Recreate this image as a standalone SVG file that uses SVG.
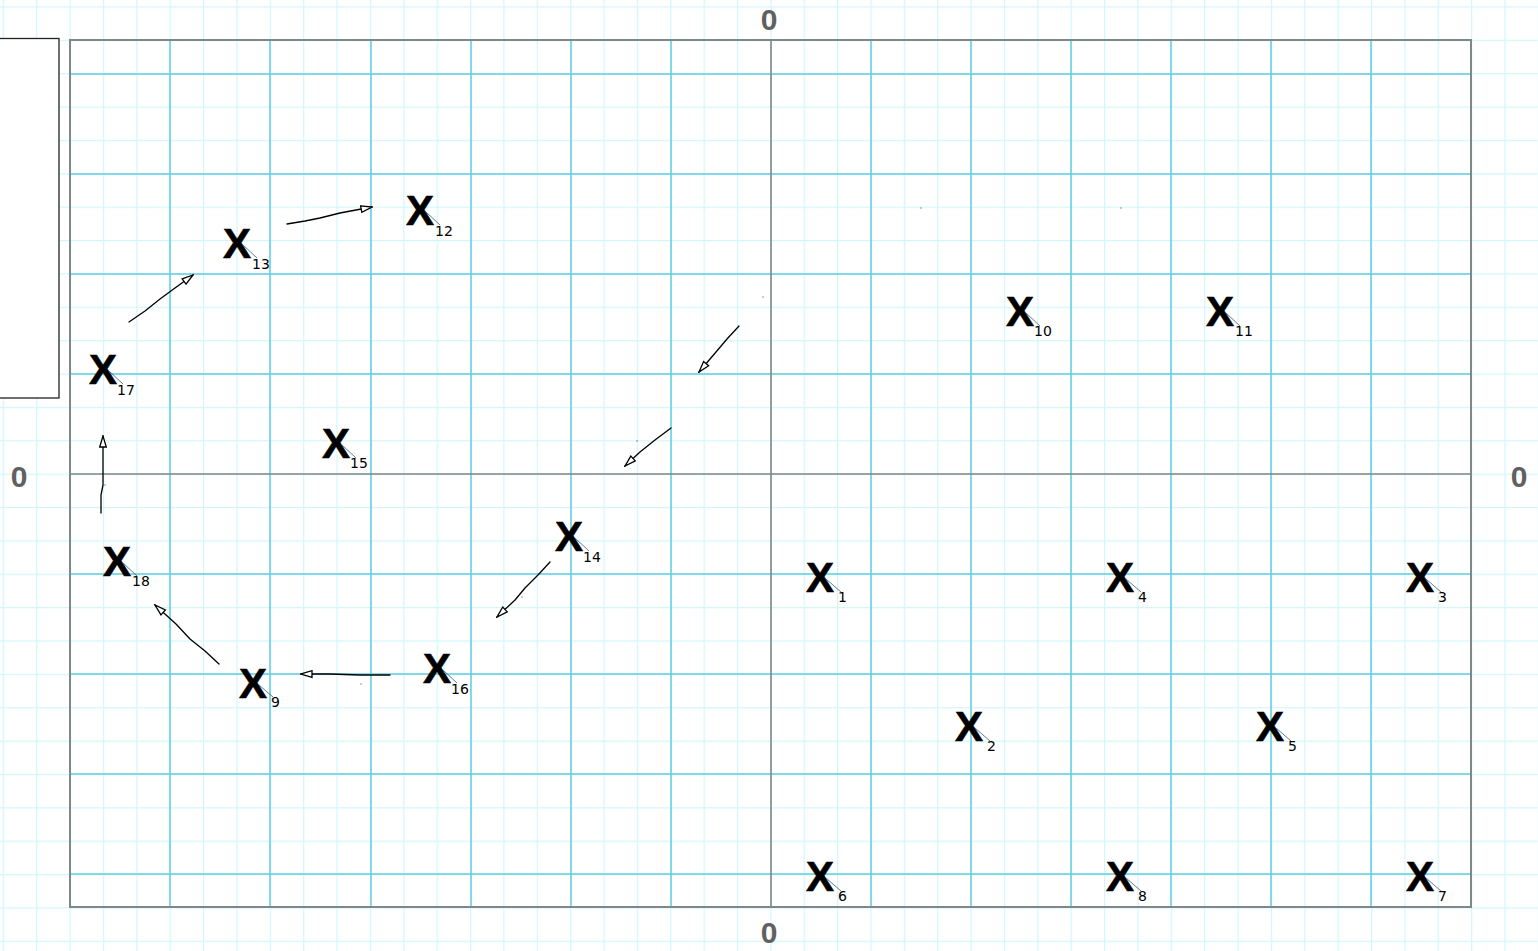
<svg xmlns="http://www.w3.org/2000/svg" width="1538" height="951" viewBox="0 0 1538 951">
<style>
.minor{stroke:#d2f6fb;stroke-width:1.2;fill:none}
.major{stroke:#62cde2;stroke-width:1.5;fill:none}
.axis{stroke:#7d8787;stroke-width:1.6;fill:none}
.border{fill:none;stroke:#7f8888;stroke-width:2}
.lbl{font-family:"Liberation Sans",Arial,sans-serif;font-weight:bold;font-size:30px;fill:#606060;text-anchor:middle}
.x{font-family:"Liberation Sans",Arial,sans-serif;font-weight:bold;font-size:42px;fill:#000;stroke:#000;stroke-width:0.6;text-anchor:middle}
.sub{font-family:"DejaVu Sans",sans-serif;font-size:14px;fill:#000}
.lead{stroke:#555;stroke-width:0.8}
.conn{fill:none;stroke:#000;stroke-width:1.3;stroke-linecap:round;stroke-linejoin:round}
</style>
<defs>
<pattern id="g" patternUnits="userSpaceOnUse" x="2.8" y="6.4" width="33.37" height="33.37">
<path d="M0.6 0V33.37M0 0.6H33.37" class="minor"/>
</pattern>
<marker id="ah" markerWidth="13" markerHeight="9" refX="12" refY="4.5" orient="auto" markerUnits="userSpaceOnUse">
<path d="M1 1.2L12 4.5L1 7.8Z" fill="#fff" stroke="#000" stroke-width="1.3"/>
</marker>
</defs>
<rect width="1538" height="951" fill="#fff"/>
<rect width="1538" height="951" fill="url(#g)"/>
<g id="grid">
<path class="major" d="M170 40V907M270 40V907M371 40V907M471 40V907M571 40V907M671 40V907M871 40V907M971 40V907M1071 40V907M1171 40V907M1271 40V907M1371 40V907"/>
<path class="major" d="M70 74H1471M70 174H1471M70 274H1471M70 374H1471M70 574H1471M70 674H1471M70 774H1471M70 874H1471"/>
<path class="axis" d="M771 40V907M70 474H1471"/>
<rect class="border" x="70" y="40" width="1401" height="867"/>
</g>
<g id="legend-box"><rect x="-2" y="38.5" width="61" height="359.5" fill="#fff" stroke="#222" stroke-width="1.3"/></g>
<g id="axis-labels">
<text class="lbl" x="769" y="30">0</text>
<text class="lbl" x="769" y="943">0</text>
<text class="lbl" x="19" y="487">0</text>
<text class="lbl" x="1519" y="487">0</text>
</g>
<g id="n1"><text class="x" x="820" y="592">X</text><line class="lead" x1="826" y1="579" x2="841" y2="592"/><text class="sub" x="838" y="602">1</text></g>
<g id="n2"><text class="x" x="969" y="741">X</text><line class="lead" x1="975" y1="728" x2="990" y2="741"/><text class="sub" x="987" y="751">2</text></g>
<g id="n3"><text class="x" x="1420" y="592">X</text><line class="lead" x1="1426" y1="579" x2="1441" y2="592"/><text class="sub" x="1438" y="602">3</text></g>
<g id="n4"><text class="x" x="1120" y="592">X</text><line class="lead" x1="1126" y1="579" x2="1141" y2="592"/><text class="sub" x="1138" y="602">4</text></g>
<g id="n5"><text class="x" x="1270" y="741">X</text><line class="lead" x1="1276" y1="728" x2="1291" y2="741"/><text class="sub" x="1288" y="751">5</text></g>
<g id="n6"><text class="x" x="820" y="891">X</text><line class="lead" x1="826" y1="878" x2="841" y2="891"/><text class="sub" x="838" y="901">6</text></g>
<g id="n7"><text class="x" x="1420" y="891">X</text><line class="lead" x1="1426" y1="878" x2="1441" y2="891"/><text class="sub" x="1438" y="901">7</text></g>
<g id="n8"><text class="x" x="1120" y="891">X</text><line class="lead" x1="1126" y1="878" x2="1141" y2="891"/><text class="sub" x="1138" y="901">8</text></g>
<g id="n9"><text class="x" x="253" y="698">X</text><line class="lead" x1="259" y1="685" x2="273" y2="697"/><text class="sub" x="271" y="707">9</text></g>
<g id="n10"><text class="x" x="1020" y="326">X</text><line class="lead" x1="1026" y1="313" x2="1040" y2="326"/><text class="sub" x="1034" y="336">10</text></g>
<g id="n11"><text class="x" x="1220" y="326">X</text><line class="lead" x1="1226" y1="313" x2="1240" y2="326"/><text class="sub" x="1235" y="336">11</text></g>
<g id="n12"><text class="x" x="420" y="225">X</text><line class="lead" x1="426" y1="212" x2="440" y2="225"/><text class="sub" x="435" y="236">12</text></g>
<g id="n13"><text class="x" x="237" y="258">X</text><line class="lead" x1="243" y1="245" x2="257" y2="258"/><text class="sub" x="252" y="269">13</text></g>
<g id="n14"><text class="x" x="569" y="551">X</text><line class="lead" x1="575" y1="538" x2="589" y2="551"/><text class="sub" x="583" y="562">14</text></g>
<g id="n15"><text class="x" x="336" y="458">X</text><line class="lead" x1="342" y1="445" x2="356" y2="458"/><text class="sub" x="350" y="468">15</text></g>
<g id="n16"><text class="x" x="437" y="683">X</text><line class="lead" x1="443" y1="670" x2="457" y2="683"/><text class="sub" x="451" y="694">16</text></g>
<g id="n17"><text class="x" x="103" y="384">X</text><line class="lead" x1="109" y1="371" x2="123" y2="384"/><text class="sub" x="117" y="395">17</text></g>
<g id="n18"><text class="x" x="117" y="576">X</text><line class="lead" x1="123" y1="563" x2="137" y2="576"/><text class="sub" x="132" y="586">18</text></g>
<g id="connectors">
<polyline class="conn" marker-end="url(#ah)" points="287,224 305,221 320,218 340,213 372,207"/>
<polyline class="conn" marker-end="url(#ah)" points="129,322 145,311 160,299 175,288 193,275"/>
<polyline class="conn" marker-end="url(#ah)" points="101,513 101,495 103,485 103,465 103,436"/>
<polyline class="conn" marker-end="url(#ah)" points="219,664 205,651 190,639 176,624 155,605"/>
<polyline class="conn" marker-end="url(#ah)" points="390,675 360,675 330,674 301,674"/>
<polyline class="conn" marker-end="url(#ah)" points="550,562 538,575 525,588 515,600 497,617"/>
<polyline class="conn" marker-end="url(#ah)" points="739,326 727,339 716,352 699,372"/>
<polyline class="conn" marker-end="url(#ah)" points="671,428 655,440 640,452 625,466"/>
<g fill="#333">
<rect x="762.5" y="296.5" width="1" height="1"/>
<rect x="636.5" y="440.5" width="1" height="1"/>
<rect x="521.5" y="596.5" width="1" height="1"/>
<rect x="360.5" y="683.5" width="1" height="1"/>
<rect x="920.5" y="207.5" width="1" height="1"/>
<rect x="1120.5" y="207.5" width="1" height="1"/>
<rect x="104.5" y="484.5" width="1" height="1"/>
</g>
</g>
</svg>
